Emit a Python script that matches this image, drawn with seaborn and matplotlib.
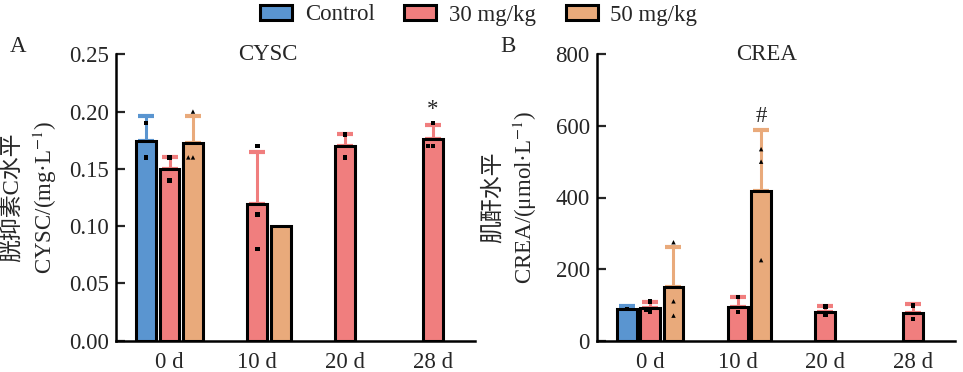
import matplotlib
matplotlib.use("Agg")
import matplotlib.pyplot as plt
from matplotlib.patches import Patch
import seaborn as sns
import pandas as pd

sns.set_style("ticks")
plt.rcParams['font.family'] = ['Liberation Serif', 'Noto Sans CJK SC']
plt.rcParams['mathtext.fontset'] = 'stix'
plt.rcParams['font.size'] = 16.5

days = ['0 d', '10 d', '20 d', '28 d']
groups = ['Control', '30 mg/kg', '50 mg/kg']
colors = ['#5A95D0', '#F07E7E', '#E9AA7B']

# one entry per bar that is drawn
bar_day = ['0 d', '0 d', '0 d', '10 d', '10 d', '20 d', '28 d']
bar_group = ['Control', '30 mg/kg', '50 mg/kg', '30 mg/kg', '50 mg/kg', '30 mg/kg', '30 mg/kg']

cysc_mean = [0.174, 0.150, 0.173, 0.119, 0.100, 0.170, 0.176]
cysc_sd = [0.022, 0.010, 0.023, 0.046, 0.0, 0.010, 0.012]
cysc_pts = [[0.19, 0.16], [0.16, 0.14], [0.20, 0.16, 0.16], [0.17, 0.11, 0.08],
            [], [0.18, 0.16], [0.19, 0.17, 0.17]]

crea_mean = [88, 92, 151, 95, 419, 80, 78]
crea_sd = [8, 17, 110, 28, 169, 17, 24]
crea_pts = [[88], [110, 85, 80], [275, 110, 70], [122, 80],
            [535, 500, 225], [96, 72], [98, 60]]


def panel(ax, means, sds, pts, ymax, step, fmt, title, title_x, ylabel):
    bars = pd.DataFrame({'day': bar_day, 'group': bar_group, 'val': means, 'sd': sds})
    sns.barplot(data=bars, x='day', y='val', hue='group', order=days, hue_order=groups,
                palette=colors, saturation=1, errorbar=None, gap=0.15, edgecolor='black',
                linewidth=2.2, legend=False, ax=ax)
    # upper error bars, matched to seaborn's patch order (hue, then day)
    bars['gi'] = bars.group.map(groups.index)
    bars['di'] = bars.day.map(days.index)
    srt = bars.sort_values(['gi', 'di'])
    for p, row in zip(ax.patches, srt.itertuples()):
        if row.sd > 0:
            xc = p.get_x() + p.get_width() / 2
            ax.errorbar(xc, p.get_height(), yerr=[[0], [row.sd]], fmt='none',
                        ecolor=colors[row.gi], elinewidth=2.2, capsize=6, capthick=3,
                        zorder=0.8)
    rows = []
    for d, g, vals in zip(bar_day, bar_group, pts):
        for v in vals:
            rows.append({'day': d, 'group': g, 'val': v})
    dots = pd.DataFrame(rows)
    black = {g: 'black' for g in groups}
    sq = dots[dots.group != '50 mg/kg']
    tri = dots[dots.group == '50 mg/kg']
    sns.swarmplot(data=sq, x='day', y='val', hue='group', order=days, hue_order=groups,
                  palette=black, dodge=True, marker='s', size=3.2, legend=False,
                  ax=ax, zorder=4)
    sns.swarmplot(data=tri, x='day', y='val', hue='group', order=days, hue_order=groups,
                  palette=black, dodge=True, marker='^', size=3.2, legend=False,
                  ax=ax, zorder=4)

    ax.set_xlim(-0.61, 3.48)
    ax.set_ylim(0, ymax)
    ticks = [i * step for i in range(int(round(ymax / step)) + 1)]
    ax.set_yticks(ticks)
    ax.set_yticklabels([fmt.format(t) for t in ticks])
    ax.tick_params(axis='y', direction='in', length=6.5, width=1.6, pad=5, labelsize=16.5)
    ax.tick_params(axis='x', length=0, pad=8, labelsize=16.5)
    sns.despine(ax=ax)
    for s in ['left', 'bottom']:
        ax.spines[s].set_linewidth(1.8)
        ax.spines[s].set_color('black')
    ax.set_xlabel('')
    ax.set_ylabel(ylabel, fontsize=16.5, linespacing=1.35)
    ax.yaxis.set_label_coords(-0.16, 0.5)
    ax.text(title_x, 1.0, title, transform=ax.transAxes, ha='center', va='center',
            fontsize=16.5)


fig = plt.figure(figsize=(9.63, 3.72), dpi=100)
axA = fig.add_axes([116 / 963, 1 - 340.7 / 372, 359 / 963, 286.4 / 372])
axB = fig.add_axes([596.7 / 963, 1 - 340.7 / 372, 358.3 / 963, 286.4 / 372])

panel(axA, cysc_mean, cysc_sd, cysc_pts, 0.25, 0.05, '{:.2f}', 'CYSC', 0.423,
      '胱抑素C水平\nCYSC/(mg·L$^{-1}$)')
panel(axB, crea_mean, crea_sd, crea_pts, 800, 200, '{:.0f}', 'CREA', 0.475,
      '肌酐水平\nCREA/(μmol·L$^{-1}$)')

axA.text(3, 0.193, '*', ha='center', va='bottom', fontsize=16.5)
axB.text(1 + 0.8 / 3, 598, '#', ha='center', va='bottom', fontsize=16.5)

fig.text(18 / 963, 1 - 47 / 372, 'A', ha='center', va='center', fontsize=16.5)
fig.text(508 / 963, 1 - 47 / 372, 'B', ha='center', va='center', fontsize=16.5)

handles = [Patch(facecolor=c, edgecolor='black', linewidth=2.2) for c in colors]
fig.legend(handles, groups, loc='center', bbox_to_anchor=(0.497, 1 - 15 / 372),
           ncol=3, frameon=False, fontsize=16.5, handlelength=1.4, handleheight=0.6,
           handletextpad=0.55, columnspacing=1.3, borderaxespad=0)

fig.savefig('out.png', dpi=100)
